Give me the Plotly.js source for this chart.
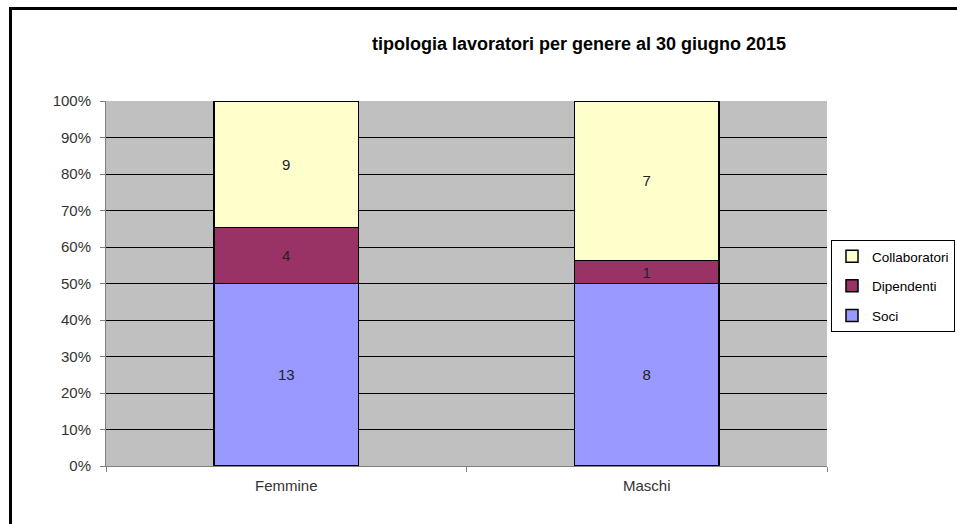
<!DOCTYPE html>
<html>
<head>
<meta charset="utf-8">
<script src="https://cdn.plot.ly/plotly-3.0.1.min.js"></script>
<style>
html,body{margin:0;padding:0;background:#fff;}
#chart{width:957px;height:524px;}
#frame{position:absolute;left:9px;top:7px;width:960px;height:530px;border-left:3px solid #000;border-top:3px solid #000;pointer-events:none;}
</style>
</head>
<body>
<div id="chart"></div>
<div id="frame"></div>
<script>
const categories = ["Femmine", "Maschi"];
const soci = [13, 8];
const dipendenti = [4, 1];
const collaboratori = [9, 7];
const yTicks = [0,10,20,30,40,50,60,70,80,90,100];
const yTickLabels = ["0%","10%","20%","30%","40%","50%","60%","70%","80%","90%","100%"];

const FONT = "Liberation Sans, Arial, sans-serif";

function mk(name, vals, color, rank) {
  return {
    type: "bar", name: name, x: categories, y: vals,
    text: vals.map(String), textposition: "inside", insidetextanchor: "middle",
    textangle: 0, constraintext: "none",
    textfont: {family: FONT, size: 15, color: "#222"},
    marker: {color: color, line: {color: "#000", width: 1.5}},
    legendgroup: name, legendrank: rank, hoverinfo: "name+y"
  };
}

const data = [
  mk("Soci", soci, "#9999FF", 3),
  mk("Dipendenti", dipendenti, "#993366", 2),
  mk("Collaboratori", collaboratori, "#FFFFCC", 1)
];

const layout = {
  width: 957, height: 524,
  margin: {l: 106, r: 130, t: 101, b: 58},
  paper_bgcolor: "#fff", plot_bgcolor: "#C0C0C0",
  barmode: "stack", barnorm: "percent", bargap: 0.6,
  font: {family: FONT, size: 15, color: "#333"},
  title: {text: "<b>tipologia lavoratori per genere al 30 giugno 2015</b>",
          font: {family: FONT, size: 18, color: "#000"},
          x: 579/957, xanchor: "center", y: 1 - 44/524, yanchor: "middle", yref: "container"},
  xaxis: {showgrid: false, showline: true, linecolor: "#808080", linewidth: 1,
          ticks: "outside", tickson: "boundaries", ticklen: 5, tickcolor: "#808080",
          ticklabelstandoff: 6,
          tickfont: {family: FONT, size: 15, color: "#333"}, mirror: false},
  yaxis: {range: [0, 100], tickvals: yTicks, ticktext: yTickLabels,
          showgrid: true, gridcolor: "#000", gridwidth: 1,
          showline: true, linecolor: "#808080", linewidth: 1,
          ticks: "outside", ticklen: 5, tickcolor: "#808080",
          ticklabelstandoff: 6,
          tickfont: {family: FONT, size: 15, color: "#333"}, zeroline: false},
  showlegend: true,
  legend: {x: 831/957, xref: "container", y: 1 - 240/524, yref: "container",
           xanchor: "left", yanchor: "top",
           bordercolor: "#000", borderwidth: 1, bgcolor: "#fff",
           traceorder: "grouped", tracegroupgap: 9,
           itemwidth: 30,
           font: {family: FONT, size: 13.5, color: "#000"}}
};

Plotly.newPlot("chart", data, layout, {displayModeBar: false, staticPlot: true});
</script>
</body>
</html>
